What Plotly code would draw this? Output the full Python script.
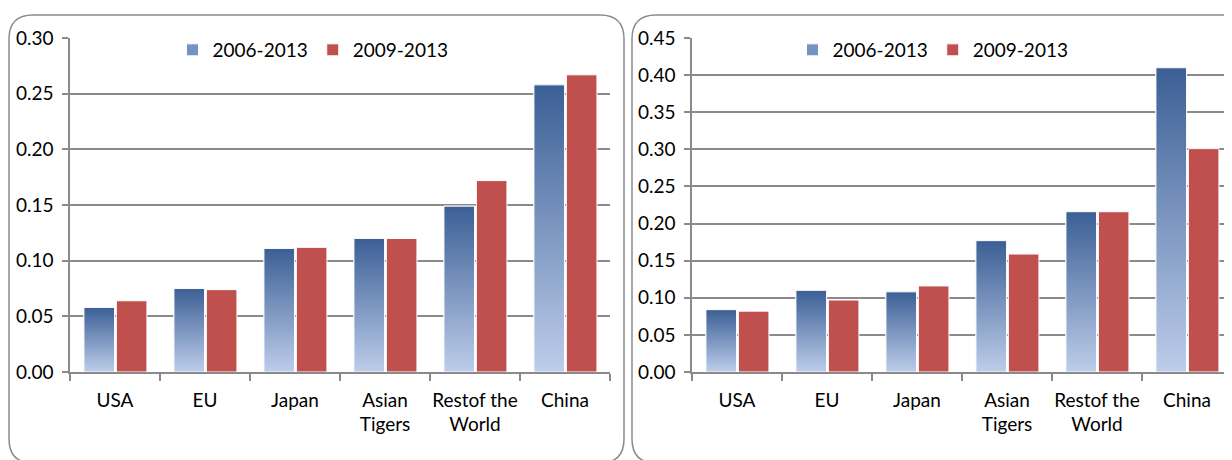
import plotly.graph_objects as go

# ---------------- data ----------------
categories = ["USA", "EU", "Japan", "Asian<br>Tigers", "Restof the<br>World", "China"]
series_names = ["2006-2013", "2009-2013"]

left_2006 = [0.058, 0.075, 0.111, 0.120, 0.149, 0.258]
left_2009 = [0.064, 0.074, 0.112, 0.120, 0.172, 0.267]

right_2006 = [0.084, 0.110, 0.108, 0.177, 0.216, 0.410]
right_2009 = [0.082, 0.097, 0.116, 0.159, 0.216, 0.301]

left_ticks = [0.00, 0.05, 0.10, 0.15, 0.20, 0.25, 0.30]
right_ticks = [0.00, 0.05, 0.10, 0.15, 0.20, 0.25, 0.30, 0.35, 0.40, 0.45]

# ---------------- style ----------------
W, H = 1232, 460
PAGE_OFF = 8  # default body margin of the html page
FONT = "Lato"
FS = 19
BLUE_DARK = "#3b5f95"
BLUE_LIGHT = "#bdcdea"
BLUE_MID = "#7592c2"
RED = "#c0504d"
GRID = "#8a8a8a"
BORDER = "#8c8c8c"
BAR_W = 0.34
OFF_BLUE = -0.345
OFF_RED = 0.015


def px(x):
    return (x - PAGE_OFF) / W


def py(y):
    return 1 - (y - PAGE_OFF) / H


idx = list(range(len(categories)))

fig = go.Figure()


def add_panel(vals_a, vals_b, xa, ya, legend_name):
    fig.add_trace(go.Bar(
        x=idx, y=vals_a, name=series_names[0], width=BAR_W, offset=OFF_BLUE,
        marker=dict(color=BLUE_MID, line=dict(color="white", width=1)),
        xaxis=xa, yaxis=ya, legend=legend_name, showlegend=True,
    ))
    fig.add_trace(go.Bar(
        x=idx, y=vals_b, name=series_names[1], width=BAR_W, offset=OFF_RED,
        marker=dict(color=RED, line=dict(color="white", width=1)),
        xaxis=xa, yaxis=ya, legend=legend_name, showlegend=True,
    ))
    # gradient fill for series A, derived from the same values
    for i, v in zip(idx, vals_a):
        x0 = i + OFF_BLUE
        x1 = x0 + BAR_W
        fig.add_trace(go.Scatter(
            x=[x0, x0, x1, x1, x0], y=[0, v, v, 0, 0],
            mode="lines", fill="toself",
            fillgradient=dict(type="vertical", start=0, stop=v,
                              colorscale=[[0, BLUE_LIGHT], [1, BLUE_DARK]]),
            line=dict(color="rgba(255,255,255,0.95)", width=1),
            xaxis=xa, yaxis=ya, showlegend=False, hoverinfo="skip",
        ))


add_panel(left_2006, left_2009, "x", "y", "legend")
add_panel(right_2006, right_2009, "x2", "y2", "legend2")

xcommon = dict(
    range=[-0.5, 5.5], tickmode="array", tickvals=idx, ticktext=categories,
    ticks="", showgrid=False, zeroline=False, automargin=False,
    showline=True, linecolor=GRID, linewidth=1.5,
    minor=dict(tickmode="array", tickvals=[i - 0.5 for i in range(len(categories) + 1)],
               ticks="outside", ticklen=7, tickcolor=GRID, tickwidth=1.5, showgrid=False),
    tickfont=dict(family=FONT, size=FS, color="black"),
    ticklabelstandoff=10, fixedrange=True,
)
ycommon = dict(
    tickmode="array", tickformat=".2f", ticks="outside", ticklen=6,
    tickcolor=GRID, tickwidth=1.5, automargin=False,
    showgrid=True, gridcolor=GRID, gridwidth=1.5, zeroline=False,
    showline=True, linecolor=GRID, linewidth=1.5, ticklabelstandoff=5,
    tickfont=dict(family=FONT, size=FS, color="black"), fixedrange=True,
)

legend_common = dict(orientation="h", xanchor="center", y=py(50), yanchor="middle",
                     bgcolor="rgba(0,0,0,0)", font=dict(family=FONT, size=FS, color="black"),
                     itemwidth=30, tracegroupgap=0)

fig.update_layout(
    width=W, height=H, autosize=False,
    margin=dict(l=0, r=0, t=0, b=0, autoexpand=False),
    paper_bgcolor="white", plot_bgcolor="white",
    barmode="group",
    font=dict(family=FONT, size=FS, color="black"),
    xaxis=dict(domain=[px(70), px(610)], anchor="y", **xcommon),
    yaxis=dict(domain=[py(372), py(38)], anchor="x", range=[0, 0.3001],
               tickvals=left_ticks, **ycommon),
    xaxis2=dict(domain=[px(692), px(1232)], anchor="y2", **xcommon),
    yaxis2=dict(domain=[py(372), py(38)], anchor="x2", range=[0, 0.4501],
                tickvals=right_ticks, **ycommon),
    legend=dict(x=px(313), **legend_common),
    legend2=dict(x=px(933), **legend_common),
)


def rounded_rect(x0, y0, x1, y1, r):
    def P(x, y):
        return f"{px(x):.5f},{py(y):.5f}"
    return (f"M {P(x0 + r, y0)} L {P(x1 - r, y0)} Q {P(x1, y0)} {P(x1, y0 + r)} "
            f"L {P(x1, y1 - r)} Q {P(x1, y1)} {P(x1 - r, y1)} "
            f"L {P(x0 + r, y1)} Q {P(x0, y1)} {P(x0, y1 - r)} "
            f"L {P(x0, y0 + r)} Q {P(x0, y0)} {P(x0 + r, y0)} Z")


for (bx0, bx1) in [(9, 624), (632, 1245)]:
    fig.add_shape(type="path", xref="paper", yref="paper",
                  path=rounded_rect(bx0, 15, bx1, 463, 24),
                  line=dict(color=BORDER, width=1.5), layer="below")

fig.write_html("out.html")
